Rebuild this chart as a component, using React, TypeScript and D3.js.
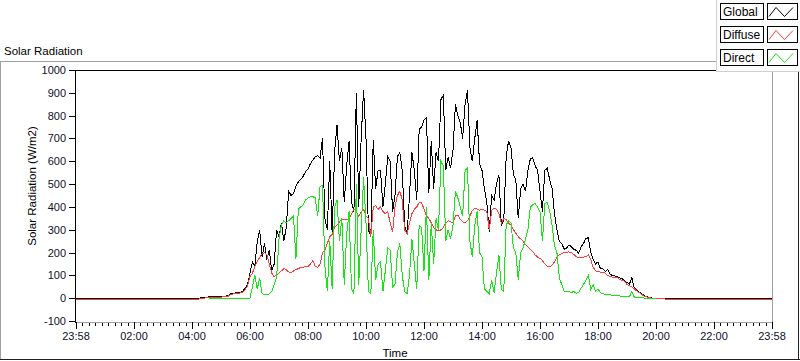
import React from "react";
import * as d3 from "d3";

// ---- data (W/m2), 5-minute samples starting at 04:00 ----
const START_MIN = 240;
const STEP_MIN = 5;
const NIGHT_GLOBAL = 0;
const NIGHT_DIFFUSE = -4;

const globalVals: number[] = [
  0, 0, 0, 1, 2, 3, 5, 6, 8, 8, 8, 8,
  8, 9, 10, 12, 20, 22, 23, 25, 26, 30, 45, 60,
  110, 160, 140, 250, 300, 180, 240, 170, 210, 120, 150, 300,
  270, 330, 250, 310, 470, 450, 460, 490, 510, 520, 535, 555,
  565, 590, 605, 620, 625, 615, 700, 350, 300, 600, 280, 640,
  760, 600, 660, 420, 580, 690, 420, 380, 900, 400, 700, 913,
  700, 300, 270, 695, 480, 560, 560, 400, 500, 620, 600, 380,
  450, 620, 640, 560, 320, 280, 450, 640, 560, 430, 740, 750,
  780, 790, 460, 690, 480, 640, 600, 870, 890, 560, 620, 570,
  650, 850, 800, 770, 700, 850, 910, 660, 600, 700, 780, 590,
  560, 480, 420, 290, 450, 430, 500, 540, 320, 340, 620, 690,
  660, 540, 520, 350, 480, 500, 470, 560, 610, 615, 580, 560,
  470, 380, 560, 570, 520, 480, 370, 300, 250, 240, 215, 220,
  234, 225, 215, 210, 198, 225, 240, 262, 265, 200, 170, 150,
  160, 130, 128, 118, 125, 105, 100, 98, 95, 90, 85, 75,
  70, 62, 90, 45, 35, 28, 22, 12, 7, 4, 2, 0,
  0, 0, 0, 0, 0, 0, 0,
];

const diffuseVals: number[] = [
  -4, -4, -4, -3, -2, 0, 2, 3, 5, 5, 5, 5,
  5, 6, 7, 9, 16, 19, 20, 22, 23, 26, 38, 55,
  95, 110, 140, 160, 180, 195, 200, 190, 150, 110, 95, 100,
  110, 120, 130, 125, 115, 110, 120, 125, 130, 135, 135, 140,
  140, 150, 165, 140, 135, 150, 200, 210, 240, 270, 280, 310,
  320, 335, 345, 345, 345, 350, 370, 390, 380, 360, 380, 390,
  360, 350, 270, 400, 405, 390, 400, 380, 370, 380, 330, 290,
  400, 450, 470, 430, 300, 280, 330, 370, 390, 400, 420, 420,
  390, 360, 350, 330, 310, 300, 295, 300, 310, 330, 340, 335,
  330, 360, 365, 345, 335, 330, 340, 360, 385, 395, 390, 385,
  390, 385, 380, 300, 385, 395, 390, 370, 330, 350, 345, 330,
  320, 300, 285, 270, 260, 250, 235, 225, 215, 205, 190, 180,
  175, 165, 150, 140, 137, 145, 160, 180, 190, 195, 200, 202,
  203, 200, 192, 182, 178, 178, 180, 183, 190, 170, 135, 120,
  118, 115, 113, 110, 100, 95, 93, 92, 90, 82, 78, 75,
  60, 55, 50, 42, 32, 25, 18, 10, 6, 3, 1, 0,
  0, 0, 0, -2, -4, -4, -4,
];

const directVals: (number | null)[] = [
  null, null, null, null, null, null, null, 0, 0, 0, 0, 0,
  0, 0, 0, 0, 0, 0, 0, 0, 0, 0, 0, 0,
  0, 50, 100, 40, 90, 20, 15, 15, 20, 30, 60, 90,
  260, 320, 340, 330, 340, 350, 360, 170, 390, 400, 410, 430,
  440, 445, 445, 440, 360, 490, 495, 140, 30, 250, 40, 400,
  430, 250, 350, 60, 280, 380, 40, 20, 500, 60, 300, 530,
  330, 30, 20, 300, 80, 150, 160, 30, 120, 220, 210, 50,
  60, 200, 240, 100, 30, 20, 100, 260, 150, 40, 320, 310,
  120, 400, 80, 330, 150, 350, 300, 600, 580, 250, 300, 260,
  320, 470, 440, 400, 360, 560, 570, 250, 180, 320, 380, 200,
  180, 40, 30, 20, 80, 25, 110, 190, 40, 30, 320, 340,
  330, 220, 200, 80, 200, 220, 260, 300, 400, 410, 415, 400,
  380, 250, 415, 420, 380, 320, 230, 200, 90, 60, 28, 30,
  30, 25, 30, 22, 25, 45, 60, 80, 100, 40, 60, 30,
  40, 25, 20, 18, 15, 15, 12, 10, 10, 10, 8, 8,
  8, 6, 30, 5, 4, 3, 2, 1, 0, 0, 0, 0,
  0, null, null, null, null, null, null,
];

const xTickLabels = ["23:58", "02:00", "04:00", "06:00", "08:00", "10:00", "12:00", "14:00", "16:00", "18:00", "20:00", "22:00", "23:58"];
const yTickValues = [-100, 0, 100, 200, 300, 400, 500, 600, 700, 800, 900, 1000];
const seriesNames = ["Global", "Diffuse", "Direct"];
const seriesColors = ["#000000", "#ff3c3c", "#14e614"];

type P = { t: number; v: number | null };

function buildSeries(vals: (number | null)[], night: number | null): P[] {
  const pts: P[] = vals.map((v, i) => ({ t: START_MIN + i * STEP_MIN, v }));
  if (night === null) return pts;
  return [{ t: 0, v: night }, ...pts, { t: 1440, v: night }];
}

const FONT = "'Liberation Sans', Arial, sans-serif";

export default function App() {
  const L = 75, R = 772, T = 70, B = 322;
  const x = d3.scaleLinear().domain([0, 1440]).range([76, 772]);
  const y = d3.scaleLinear().domain([-100, 1000]).range([321.1, 70]);

  const line = d3
    .line<P>()
    .defined((d) => d.v !== null)
    .x((d) => x(d.t))
    .y((d) => y(d.v as number));

  const series = [
    buildSeries(globalVals, NIGHT_GLOBAL),
    buildSeries(diffuseVals, NIGHT_DIFFUSE),
    buildSeries(directVals, null),
  ];

  const majorT = xTickLabels.map((_, i) => i * 120);
  const minorT: number[] = [];
  for (let i = 0; i < 12; i++) for (let j = 1; j < 9; j++) minorT.push(i * 120 + (j * 120) / 9);

  const legendY = [3.5, 26.5, 49.5];

  return (
    <div style={{ position: "absolute", left: 0, top: 0, width: 800, height: 361, background: "#fff" }}>
      <svg width={800} height={361} style={{ display: "block" }} fontFamily={FONT}>
        <defs>
          <clipPath id="plotclip">
            <rect x={L + 1} y={T + 1} width={R - L - 1} height={B - T - 1} />
          </clipPath>
        </defs>
        {/* outer frame */}
        <g shapeRendering="crispEdges">
          <line x1={0} x2={717} y1={61.5} y2={61.5} stroke="#a0a0a0" />
          <line x1={0.5} x2={0.5} y1={61.5} y2={359} stroke="#a0a0a0" />
          <line x1={0} x2={800} y1={359.5} y2={359.5} stroke="#202020" />
          <line x1={798.5} x2={798.5} y1={72} y2={360} stroke="#202020" />
        </g>
        <text x={4} y={55} fontSize={11.5} fill="#000">Solar Radiation</text>

        {/* plot frame */}
        <g shapeRendering="crispEdges">
          <line x1={R + 0.5} x2={R + 0.5} y1={T} y2={B + 1} stroke="#a0a0a0" />
          <line x1={L} x2={R + 1} y1={B + 0.5} y2={B + 0.5} stroke="#a0a0a0" />
        </g>

        {/* data */}
        <g clipPath="url(#plotclip)" fill="none" shapeRendering="crispEdges">
          {series.map((s, i) => (
            <path key={i} d={line(s) || ""} stroke={seriesColors[i]} strokeWidth={1} />
          ))}
        </g>

        <g shapeRendering="crispEdges">
          <line x1={L + 0.5} x2={L + 0.5} y1={T} y2={B + 1} stroke="#000" />
          <line x1={L} x2={R} y1={T + 0.5} y2={T + 0.5} stroke="#000" />
        </g>

        {/* y axis */}
        <g shapeRendering="crispEdges">
          {yTickValues.map((v) => {
            const yy = Math.round(y(v)) + 0.5;
            return <line key={v} x1={69} x2={75} y1={yy} y2={yy} stroke="#000" />;
          })}
        </g>
        {yTickValues.map((v) => (
          <text key={v} x={66} y={Math.round(y(v))} dy="0.36em" textAnchor="end" fontSize={11} fill="#10102a">
            {v}
          </text>
        ))}

        {/* x axis */}
        <g shapeRendering="crispEdges">
          {majorT.map((t, i) => {
            const xx = Math.round(x(t)) + 0.5;
            return <line key={i} x1={xx} x2={xx} y1={B} y2={B + 7} stroke="#000" />;
          })}
          {minorT.map((t, i) => {
            const xx = Math.round(x(t)) + 0.5;
            return <line key={i} x1={xx} x2={xx} y1={B + 1} y2={B + 4} stroke="#000" />;
          })}
        </g>
        {majorT.map((t, i) => (
          <text key={i} x={x(t)} y={340} textAnchor="middle" fontSize={11} fill="#10102a">
            {xTickLabels[i]}
          </text>
        ))}

        {/* axis titles */}
        <text x={395} y={357} textAnchor="middle" fontSize={11.5} fill="#000">Time</text>
        <text transform="translate(36,186) rotate(-90)" textAnchor="middle" fontSize={11.5} fill="#000">
          Solar Radiation (W/m2)
        </text>

        {/* legend */}
        <rect x={716.5} y={-0.5} width={84} height={72} fill="#fcfcfc" stroke="#cfcfcf" shapeRendering="crispEdges" />
        {seriesNames.map((name, i) => {
          const ty = legendY[i];
          return (
            <g key={name}>
              <rect x={720.5} y={ty} width={43} height={16} fill="#fff" stroke="#000" shapeRendering="crispEdges" />
              <text x={723} y={ty + 12.5} fontSize={12} fill="#000">{name}</text>
              <rect x={767.5} y={ty} width={30} height={16} fill="#fff" stroke="#000" shapeRendering="crispEdges" />
              <polyline
                points={`769,${ty + 13} 776,${ty + 4} 784.5,${ty + 13} 793,${ty + 4}`}
                fill="none"
                stroke={seriesColors[i]}
                strokeWidth={1}
              />
            </g>
          );
        })}
      </svg>
    </div>
  );
}
